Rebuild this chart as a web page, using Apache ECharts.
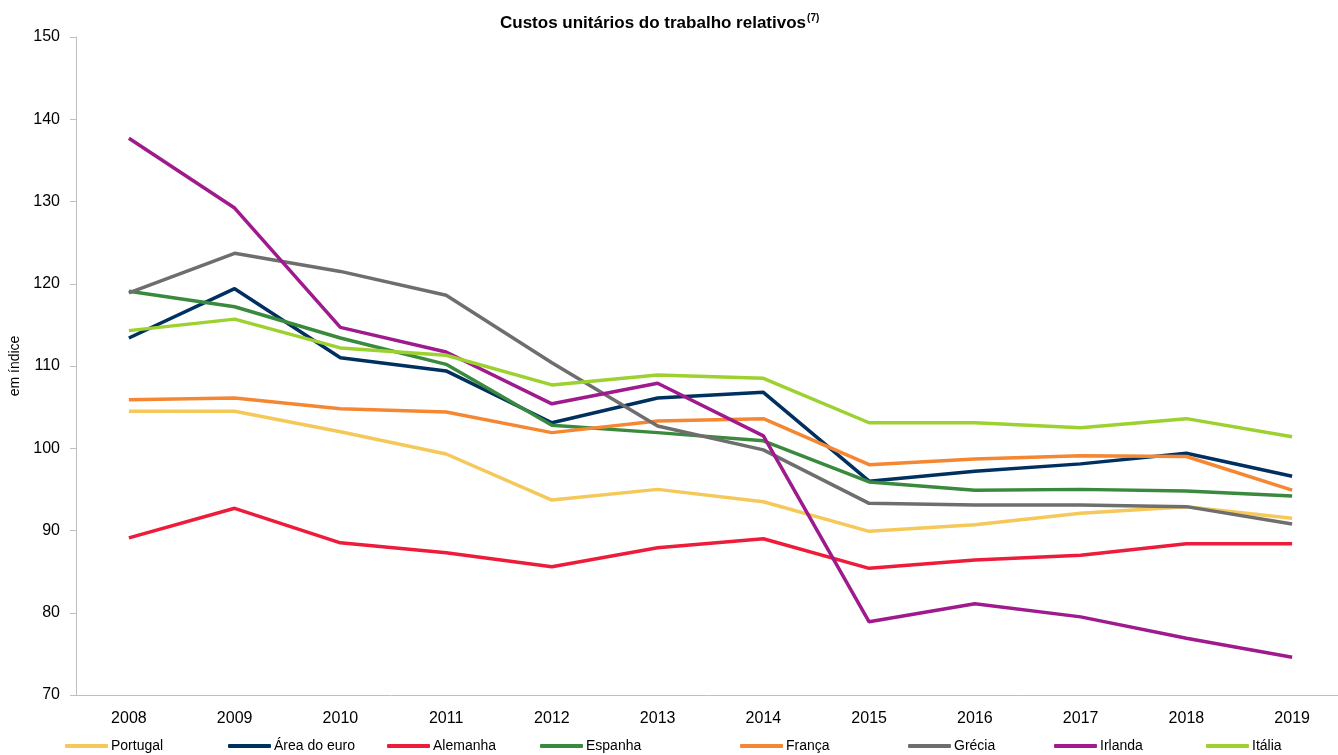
<!DOCTYPE html>
<html><head><meta charset="utf-8">
<script src="https://cdn.jsdelivr.net/npm/echarts@6/dist/echarts.min.js"></script>
<style>html,body{margin:0;padding:0;background:#fff}#c{width:1338px;height:755px}</style>
</head><body><div id="c"></div>
<script>
const years = ['2008','2009','2010','2011','2012','2013','2014','2015','2016','2017','2018','2019'];
const portugal = [104.5,104.5,102.0,99.3,93.7,95.0,93.5,89.9,90.7,92.1,92.9,91.5];
const areaEuro = [113.4,119.4,111.0,109.4,103.1,106.1,106.8,96.0,97.2,98.1,99.4,96.6];
const alemanha = [89.1,92.7,88.5,87.3,85.6,87.9,89.0,85.4,86.4,87.0,88.4,88.4];
const espanha = [119.1,117.2,113.4,110.2,102.8,101.9,100.9,95.9,94.9,95.0,94.8,94.2];
const franca = [105.9,106.1,104.8,104.4,101.9,103.3,103.6,98.0,98.7,99.1,99.0,94.9];
const grecia = [118.9,123.7,121.5,118.6,110.4,102.7,99.8,93.3,93.1,93.1,92.9,90.8];
const irlanda = [137.7,129.2,114.7,111.7,105.4,107.9,101.5,78.9,81.1,79.5,76.9,74.6];
const italia = [114.3,115.7,112.2,111.3,107.7,108.9,108.5,103.1,103.1,102.5,103.6,101.4];
const yTicks = {min:70, max:150, interval:10};

const seriesDefs = [
  ['Portugal', portugal, '#F5C85A'],
  ['Área do euro', areaEuro, '#00305F'],
  ['Alemanha', alemanha, '#EE1C3B'],
  ['Espanha', espanha, '#3A8A3E'],
  ['França', franca, '#F58733'],
  ['Grécia', grecia, '#6E6E6E'],
  ['Irlanda', irlanda, '#9E1A8D'],
  ['Itália', italia, '#9DD12F']
];
const legendLefts = [65, 228, 387, 540, 740, 908, 1054, 1206];
const font = '"Liberation Sans", Arial, sans-serif';
const chart = echarts.init(document.getElementById('c'));
chart.setOption({
  animation:false,
  title:{
    text:'{t|Custos unitários do trabalho relativos}{s|(7)}',
    left:500, top:13, padding:0,
    textStyle:{rich:{
      t:{fontFamily:font,fontWeight:'bold',fontSize:17,color:'#000'},
      s:{fontFamily:font,fontWeight:'bold',fontSize:10,color:'#000',verticalAlign:'top',padding:[0,0,10,1]}
    }}
  },
  legend:seriesDefs.map((d,i)=>({
    top:739, left:legendLefts[i], padding:0, itemGap:0, itemWidth:43, itemHeight:4,
    icon:'roundRect', selectedMode:false,
    textStyle:{fontFamily:font,fontSize:14,color:'#000',padding:[0,0,0,-2]},
    data:[d[0]]
  })),
  grid:{left:76, right:-7, top:37, bottom:60, outerBoundsMode:'none', containLabel:false},
  xAxis:{
    type:'category', data:years, boundaryGap:true,
    axisLine:{lineStyle:{color:'#BFBFBF',width:1}},
    axisTick:{show:false},
    axisLabel:{fontFamily:font,fontSize:16,color:'#000',margin:16}
  },
  yAxis:{
    type:'value', min:yTicks.min, max:yTicks.max, interval:yTicks.interval,
    name:'em índice', nameLocation:'middle', nameGap:50, nameRotate:90,
    nameTextStyle:{fontFamily:font,fontSize:14,color:'#000'},
    axisLine:{show:true,lineStyle:{color:'#BFBFBF',width:1}},
    axisTick:{show:true,length:6,lineStyle:{color:'#BFBFBF'}},
    splitLine:{show:false},
    axisLabel:{fontFamily:font,fontSize:16,color:'#000',margin:16}
  },
  series:seriesDefs.map(d=>({
    name:d[0], type:'line', data:d[1], symbol:'none',
    lineStyle:{color:d[2],width:3.5}, itemStyle:{color:d[2]}
  }))
});
</script></body></html>
